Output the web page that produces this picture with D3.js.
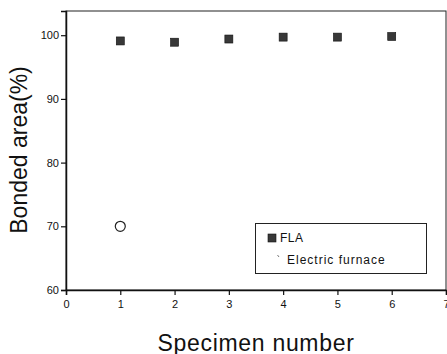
<!DOCTYPE html>
<html>
<head>
<meta charset="utf-8">
<script src="https://cdn.jsdelivr.net/npm/d3@7"></script>
<style>
  body { margin: 0; background: #fff; }
  svg { display: block; }
</style>
</head>
<body>
<div id="chart"></div>
<script>
// Data
const specimens = [1, 2, 3, 4, 5, 6];
const flaValues = [99.1, 98.9, 99.4, 99.7, 99.7, 99.8];
const furnaceSpecimens = [1];
const furnaceValues = [70];
const xTicks = [0, 1, 2, 3, 4, 5, 6, 7];
const yTicks = [60, 70, 80, 90, 100];

const width = 447, height = 354;
const margin = { left: 66, right: 1, top: 11, bottom: 64 };

const svg = d3.select('#chart').append('svg')
  .attr('width', width)
  .attr('height', height);

const x = d3.scaleLinear().domain([0, 7]).range([margin.left, width - margin.right]);
const y = d3.scaleLinear().domain([60, 103.8]).range([height - margin.bottom, margin.top]);

const font = 'Liberation Sans, Arial, sans-serif';

// Frame
svg.append('rect')
  .attr('x', x(0)).attr('y', y(103.8))
  .attr('width', x(7) - x(0)).attr('height', y(60) - y(103.8))
  .attr('fill', 'none').attr('stroke', '#222').attr('stroke-width', 1);

// Axes
const xAxis = svg.append('g')
  .attr('transform', `translate(0,${y(60)})`)
  .call(d3.axisBottom(x).tickValues(xTicks).tickSize(5).tickPadding(5).tickFormat(d3.format('d')));
const yAxis = svg.append('g')
  .attr('transform', `translate(${x(0)},0)`)
  .call(d3.axisLeft(y).tickValues(yTicks).tickSize(5).tickPadding(2).tickFormat(d3.format('d')));

[xAxis, yAxis].forEach(a => {
  a.select('.domain').attr('stroke', '#111').attr('stroke-width', 1.5);
  a.selectAll('.tick line').attr('stroke', '#111').attr('stroke-width', 1.2);
  a.selectAll('.tick text')
    .attr('font-family', font).attr('font-size', 11).attr('fill', '#111');
});

// FLA squares
const sq = 8;
svg.append('g').selectAll('rect')
  .data(specimens.map((s, i) => ({ s, v: flaValues[i] })))
  .join('rect')
  .attr('x', d => x(d.s) - sq / 2)
  .attr('y', d => y(d.v) - sq / 2)
  .attr('width', sq).attr('height', sq)
  .attr('fill', '#383838')
  .attr('stroke', '#111').attr('stroke-width', 0.6);

// Electric furnace circles
svg.append('g').selectAll('circle')
  .data(furnaceSpecimens.map((s, i) => ({ s, v: furnaceValues[i] })))
  .join('circle')
  .attr('cx', d => x(d.s))
  .attr('cy', d => y(d.v))
  .attr('r', 5)
  .attr('fill', 'none')
  .attr('stroke', '#222').attr('stroke-width', 1.2);

// Legend
const lg = svg.append('g');
lg.append('rect')
  .attr('x', 255.5).attr('y', 223.5).attr('width', 171).attr('height', 50)
  .attr('fill', '#fff').attr('stroke', '#222').attr('stroke-width', 1);
lg.append('rect')
  .attr('x', 268).attr('y', 234).attr('width', 8).attr('height', 8)
  .attr('fill', '#383838').attr('stroke', '#111').attr('stroke-width', 0.6);
lg.append('text')
  .attr('x', 280).attr('y', 242)
  .attr('font-family', font).attr('font-size', 12).attr('letter-spacing', 0.5).attr('fill', '#111')
  .text('FLA');
lg.append('path')
  .attr('d', 'M277.5,255 L279,257')
  .attr('stroke', '#555').attr('stroke-width', 0.8);
lg.append('text')
  .attr('x', 287).attr('y', 264)
  .attr('font-family', font).attr('font-size', 12).attr('letter-spacing', 1).attr('fill', '#111')
  .text('Electric furnace');

// Axis titles
svg.append('text')
  .attr('x', (x(0) + x(7)) / 2).attr('y', 351)
  .attr('text-anchor', 'middle')
  .attr('font-family', font).attr('font-size', 23).attr('letter-spacing', 0.7).attr('fill', '#111')
  .text('Specimen number');
svg.append('text')
  .attr('transform', `translate(27,150) rotate(-90)`)
  .attr('text-anchor', 'middle')
  .attr('font-family', font).attr('font-size', 23).attr('fill', '#111')
  .text('Bonded area(%)');
</script>
</body>
</html>
